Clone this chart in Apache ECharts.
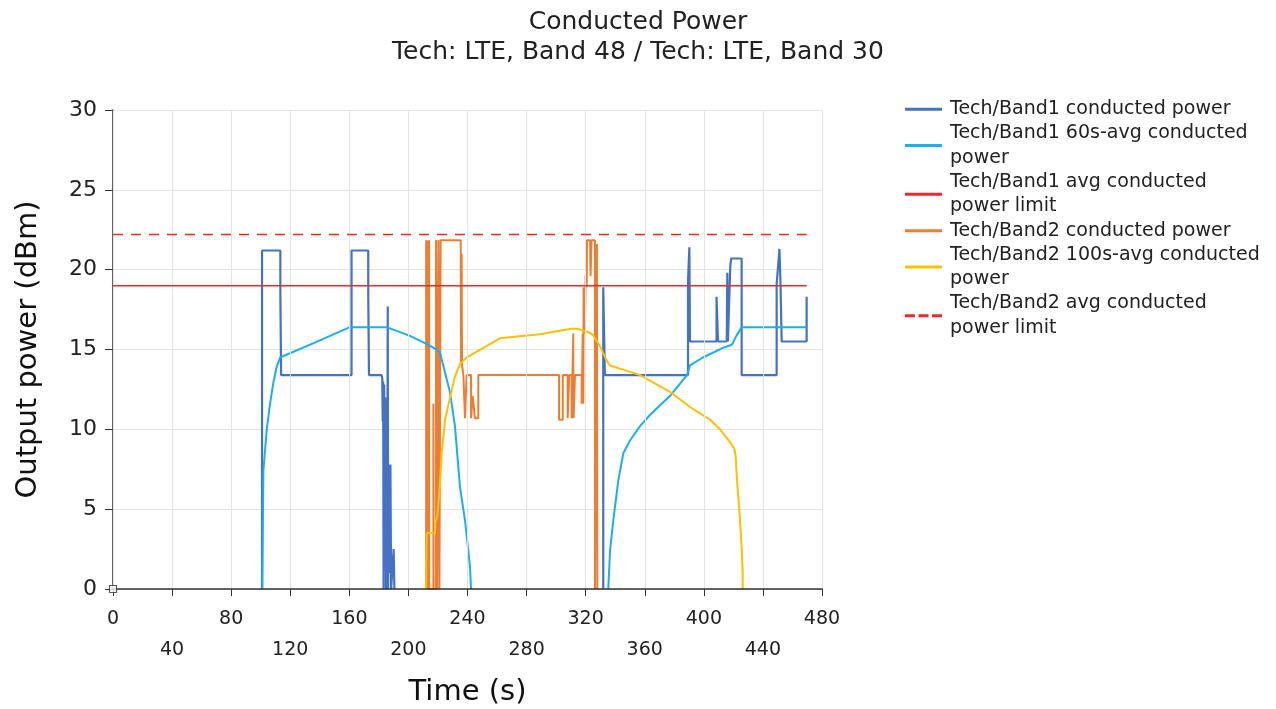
<!DOCTYPE html>
<html>
<head>
<meta charset="utf-8">
<script src="https://cdn.jsdelivr.net/npm/echarts@6/dist/echarts.min.js"></script>
<style>
  html, body { margin: 0; padding: 0; background: #fff; }
  #chart { width: 1276px; height: 709px; }
</style>
</head>
<body>
<div id="chart"></div>
<script>
// values: [time (s), power (dBm)]
const band1Power = [
  [100.9, 0], [100.9, 21.2], [113.3, 21.2], [113.3, 18.6], [113.8, 18.6], [113.8, 13.4],
  [161.5, 13.4], [161.5, 21.2], [172.8, 21.2], [172.8, 18.5], [173.3, 18.5], [173.3, 13.4],
  [181.8, 13.4], [182.3, 13.2], [182.6, 10.5], [182.9, 13], [183.2, 0], [183.6, 12.8],
  [184, 3], [184.4, 12], [184.8, 0], [185.2, 8], [185.6, 0], [186, 17.7], [186.3, 0],
  [186.8, 7.8], [187.3, 1], [187.8, 7.8], [188.3, 0], [189.6, 0], [190, 2.5], [190.5, 0],
  ['-', '-'],
  [331.9, 0], [331.9, 18.9], [333, 18.9], [333, 13.4], [389.3, 13.4], [389.3, 19.3],
  [389.8, 19.3], [390.2, 21.4], [390.6, 15.5], [408.6, 15.5], [408.6, 18.3], [409.6, 18.3],
  [409.6, 15.5], [415.5, 15.5], [415.9, 19.8], [416.3, 15.5], [417.5, 15.5], [417.9, 20.2],
  [418.5, 20.7], [425.6, 20.7], [425.6, 13.4], [449.3, 13.4], [449.3, 19.1], [450.5, 19.1],
  [451.2, 21.3], [451.9, 19.1], [452.7, 15.5], [469.6, 15.5], [469.6, 18.3]
]

const band1Avg = [
  [101.1, 0], [101.8, 7.4], [104.1, 10], [106.3, 11.6], [108.5, 12.9], [110.8, 13.9],
  [113.1, 14.5], [137, 15.45], [160.4, 16.4], [185.3, 16.4], [201, 15.85], [211.2, 15.4],
  [219.1, 15.0], [221.4, 14.8], [228.2, 12.3], [231.5, 10.2], [234.9, 6.4], [238.3, 4.3],
  [241.7, 1.4], [242.4, 0],
  ['-', '-'],
  [335.3, 0], [336.5, 2.4], [338.7, 4.3], [342.1, 6.8], [345.5, 8.5], [350, 9.3],
  [356.8, 10.2], [363.5, 10.9], [377.1, 12.1], [388.6, 13.4], [390.6, 14.0], [399.4, 14.5],
  [412.9, 15.1], [418.9, 15.3], [422.3, 15.9], [425.6, 16.4], [469.6, 16.4]
]

const band2Power = [
  [212, 0], [212, 21.85], [212.4, 21.85], [212.4, 0], [212.9, 0], [212.9, 21.85],
  [213.5, 21.85], [213.5, 0], [214, 0], [214, 21.85], [214.1, 0],
  [216.9, 0], [216.9, 11.6], [217.1, 11.6], [217.1, 0],
  [218.7, 0], [218.7, 21.85], [219.5, 21.85], [219.5, 0], [220.3, 0], [220.3, 21.85],
  [221, 21.85], [221, 0], [221.8, 0], [221.8, 21.85], [235.4, 21.85], [235.6, 14.2],
  [236, 21], [236.3, 14], [237.2, 13.4], [238.3, 13.4], [238.3, 10.7], [239.4, 10.7],
  [239.4, 13.4], [242.4, 13.4], [242.4, 10.7], [243.2, 10.7], [243.5, 12.1], [244.5, 12.1],
  [245, 10.7], [247.3, 10.7], [247.3, 13.4],
  [302, 13.4], [302, 10.6], [304.5, 10.6], [304.5, 13.4], [307.8, 13.4], [307.8, 10.7],
  [308.9, 10.7], [308.9, 13.4], [310.5, 13.4], [310.5, 10.7], [311.4, 10.7], [311.6, 16.0],
  [311.8, 10.7], [312.8, 10.7], [312.8, 13.4], [317.3, 13.4], [317.3, 11.6], [318, 16],
  [318.4, 11.6], [318.6, 18.9], [319.5, 16], [320, 19.7], [320.7, 18.9], [320.9, 21.85],
  [323, 21.85], [323.3, 19.6], [324, 21.85], [326.3, 21.85], [326.3, 0], [327.6, 0],
  [327.6, 21.6], [327.9, 21.6], [327.9, 0]
]

const band2Avg = [
  [211.9, 0], [212.4, 3.5], [218, 3.5], [218.3, 4.2], [219.5, 4.5], [220.9, 6.0],
  [222.5, 8.5], [224.8, 10.6], [228.2, 12.0], [231.5, 13.3], [234.9, 14.1], [239.5, 14.5],
  [262, 15.7], [289, 15.95], [310, 16.3], [314.1, 16.3], [321.6, 16.1], [325, 15.9],
  [329.7, 15.2], [334.2, 14.3], [336.5, 14.0], [350, 13.6], [356.8, 13.4], [377.1, 12.35],
  [390.6, 11.4], [397.4, 11.0], [404.2, 10.6], [410.9, 10.0], [417.7, 9.2], [420.6, 8.8],
  [421.6, 8.3], [422.3, 7.0], [423.3, 5.8], [424.5, 4.3], [425.6, 2.6], [426.3, 1.0], [426.3, 0]
]

const band1Limit = [[0, 19], [469.6, 19]]
const band2Limit = [[0, 22.2], [469.6, 22.2]]

const seriesNames = [
  'Tech/Band1 conducted power',
  'Tech/Band1 60s-avg conducted\npower',
  'Tech/Band1 avg conducted\npower limit',
  'Tech/Band2 conducted power',
  'Tech/Band2 100s-avg conducted\npower',
  'Tech/Band2 avg conducted\npower limit'
]

const FONT = 'DejaVu Sans'
const solidIcon = 'rect'
const dashedIcon = 'path://M0,0h10v3h-10z M13.5,0h10v3h-10z M27,0h10v3h-10z'

function lineSeries (name, data, color, width, type, z) {
  return {
    name,
    type: 'line',
    data,
    symbol: 'none',
    showSymbol: false,
    z,
    lineStyle: { color, width, type: type || 'solid' },
    itemStyle: { color }
  }
}

window.onload = function () {
  const myChart = echarts.init(document.getElementById('chart'))
  const option = {
    animation: false,
    backgroundColor: '#fff',
    title: {
      text: 'Conducted Power\nTech: LTE, Band 48 / Tech: LTE, Band 30',
      left: 'center',
      top: 7,
      padding: 0,
      textStyle: { fontFamily: FONT, fontSize: 25, fontWeight: 'normal', color: '#222', lineHeight: 30 }
    },
    legend: {
      data: seriesNames.map((name, i) => ({ name, icon: i === 5 ? dashedIcon : solidIcon })),
      orient: 'vertical',
      left: 900,
      top: 92,
      itemGap: 0,
      itemWidth: 37,
      itemHeight: 3,
      textStyle: { fontFamily: FONT, fontSize: 19, color: '#222', lineHeight: 24.3, padding: [0, 0, 0, 3] }
    },
    grid: { left: 113, right: 454, top: 110, bottom: 120, outerBoundsMode: 'none' },
    xAxis: {
      type: 'value',
      min: 0,
      max: 480,
      interval: 40,
      name: 'Time (s)',
      nameLocation: 'middle',
      nameGap: 89,
      nameTextStyle: { fontFamily: FONT, fontSize: 29, color: '#111' },
      axisLine: { onZero: false, lineStyle: { color: '#333', width: 1.5 } },
      axisTick: { length: 7, lineStyle: { color: '#333' } },
      axisLabel: {
        fontFamily: FONT,
        fontSize: 19,
        color: '#222',
        lineHeight: 31,
        margin: 15,
        formatter: (v) => ((v / 40) % 2 ? '\n' + v : '' + v)
      },
      splitLine: { show: true, lineStyle: { color: '#e4e4e4' } },
      z: 5
    },
    yAxis: {
      type: 'value',
      min: 0,
      max: 30,
      interval: 5,
      name: 'Output power (dBm)',
      nameLocation: 'middle',
      nameGap: 70,
      nameTextStyle: { fontFamily: FONT, fontSize: 29, color: '#111' },
      axisLine: { show: true, lineStyle: { color: '#333', width: 1.5 } },
      axisTick: { show: true, length: 8, lineStyle: { color: '#333' } },
      axisLabel: { fontFamily: FONT, fontSize: 22, color: '#222', margin: 16 },
      splitLine: { show: true, lineStyle: { color: '#e4e4e4' } }
    },
    series: [
      lineSeries(seriesNames[0], band1Power, '#4472C4', 2.2, null, 2),
      lineSeries(seriesNames[3], band2Power, '#ED7D31', 2, null, 3),
      lineSeries(seriesNames[1], band1Avg, '#1AAFEF', 2, null, 4),
      lineSeries(seriesNames[4], band2Avg, '#FFC000', 2, null, 4),
      lineSeries(seriesNames[2], band1Limit, '#F02828', 1.5, null, 5),
      lineSeries(seriesNames[5], band2Limit, '#F02828', 1.5, [10, 8], 5),
      {
        type: 'scatter',
        data: [[0, 0]],
        symbol: 'rect',
        symbolSize: 7,
        z: 10,
        itemStyle: { color: '#fff', borderColor: '#333', borderWidth: 1.2 }
      }
    ]
  }
  myChart.setOption(option)
}
</script>
</body>
</html>
